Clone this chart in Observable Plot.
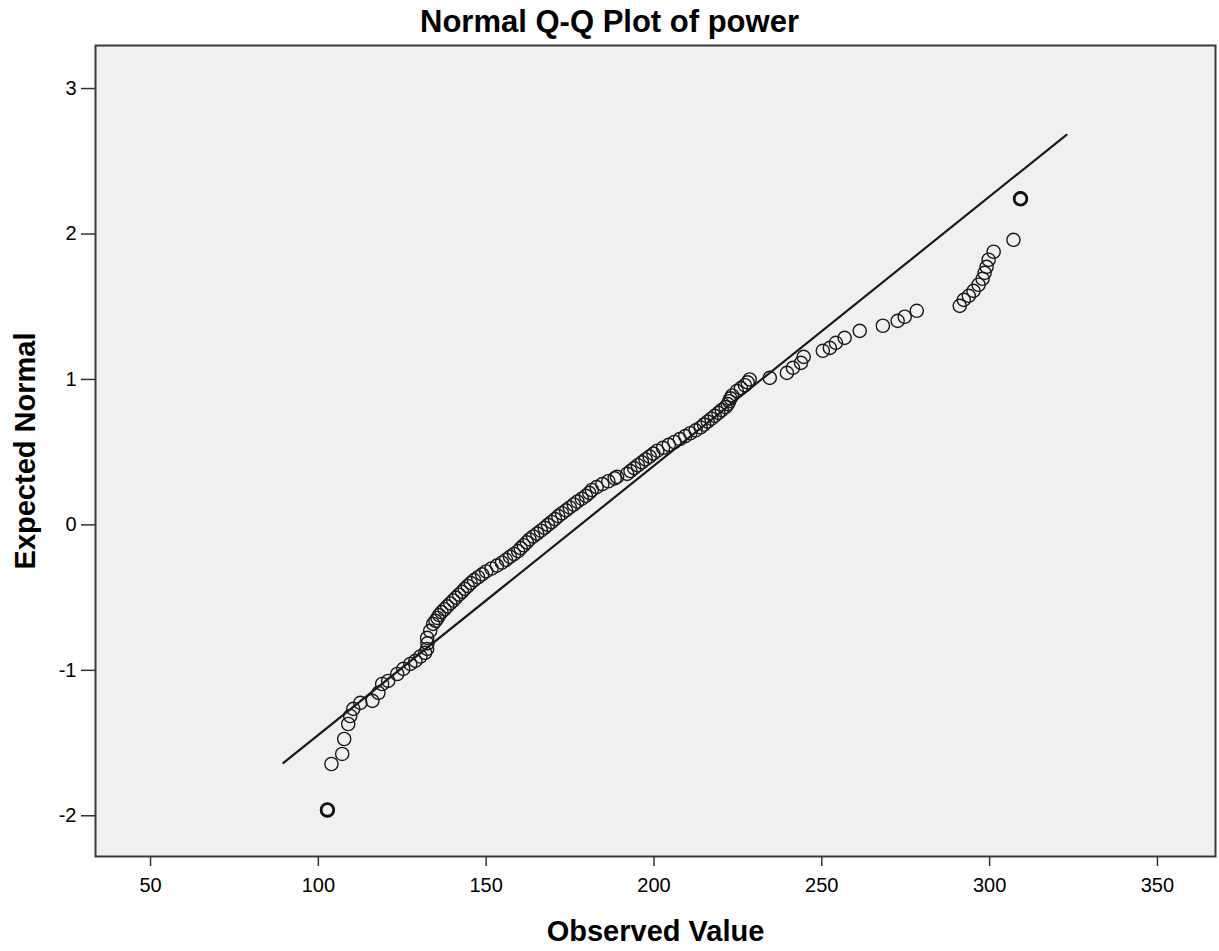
<!DOCTYPE html>
<html>
<head>
<meta charset="utf-8">
<script src="https://cdn.jsdelivr.net/npm/d3@7"></script>
<script src="https://cdn.jsdelivr.net/npm/@observablehq/plot@0.6"></script>
<style>
  body { margin: 0; background: #ffffff; font-family: "Liberation Sans", Arial, sans-serif; }
  #title { height: 40px; width: 1219px; text-align: center; font-size: 31px; font-weight: bold; line-height: 44px; color: #000; overflow: visible; white-space: nowrap; }
  #chart { height: 911px; }
</style>
</head>
<body>
<div id="title">Normal Q-Q Plot of power</div>
<div id="chart"></div>
<script>
const observed = [
  102.7, 103.9, 107.1, 107.7, 108.9, 109.5, 110.4, 112.5, 116.1, 117.9, 119.0, 120.8, 123.5, 125.3, 127.4, 128.9, 130.4, 131.8, 132.4, 132.5, 132.4, 133.3,
  134.2, 134.9, 135.5, 136.0, 136.7, 137.6, 138.4, 139.3, 140.2, 141.0, 141.9, 142.8, 143.6, 144.5, 145.4, 146.4, 147.6, 148.8, 150.0, 151.6, 153.2,
  154.7, 155.9, 157.1, 158.3, 159.5, 160.3, 161.2, 162.1, 162.9, 164.0, 165.2, 166.3, 167.4, 168.4, 169.5, 170.5, 171.5, 172.6, 173.8, 174.9, 176.1,
  177.2, 178.5, 179.7, 180.7, 181.5, 182.9, 184.6, 186.4, 188.3, 189.0, 192.0, 193.0, 194.1, 195.2, 196.4, 197.5, 198.7, 199.8, 201.0, 202.7, 204.4,
  206.1, 207.7, 209.3, 210.8, 212.4, 213.9, 214.9, 216.0, 217.1, 218.1, 219.2, 220.2, 221.3, 222.0, 222.4, 222.8, 223.3, 224.7, 225.9, 227.1, 227.9, 228.5,
  234.5, 239.6, 241.4, 243.8, 244.6, 250.3, 252.4, 254.2, 256.8, 261.3, 268.2, 272.6, 274.7, 278.3,
  291.1, 292.3, 293.8, 295.2, 296.7, 297.9, 298.5, 299.1, 299.7, 301.2, 307.1, 309.2
];
const expected = [
  -1.960, -1.644, -1.575, -1.472, -1.369, -1.314, -1.265, -1.224, -1.210, -1.155, -1.094, -1.073, -1.025, -0.990, -0.956, -0.935, -0.905, -0.880, -0.853, -0.815, -0.777, -0.729,
  -0.681, -0.66, -0.64, -0.62, -0.60, -0.58, -0.56, -0.54, -0.52, -0.50, -0.48, -0.46, -0.44, -0.42, -0.40, -0.38, -0.36, -0.34, -0.32, -0.30, -0.28,
  -0.26, -0.24, -0.22, -0.20, -0.18, -0.16, -0.14, -0.12, -0.10, -0.08, -0.06, -0.04, -0.02, 0.00, 0.02, 0.04, 0.06, 0.08, 0.10, 0.12, 0.14,
  0.16, 0.18, 0.20, 0.22, 0.24, 0.26, 0.28, 0.30, 0.32, 0.33, 0.351, 0.37, 0.39, 0.41, 0.43, 0.45, 0.47, 0.49, 0.51, 0.53, 0.55,
  0.57, 0.59, 0.61, 0.63, 0.65, 0.67, 0.69, 0.71, 0.73, 0.75, 0.77, 0.79, 0.81, 0.83, 0.85, 0.87, 0.89, 0.92, 0.94, 0.96, 0.98, 1.00,
  1.011, 1.045, 1.080, 1.114, 1.155, 1.197, 1.217, 1.252, 1.286, 1.334, 1.369, 1.403, 1.431, 1.472,
  1.506, 1.547, 1.575, 1.609, 1.651, 1.692, 1.733, 1.774, 1.823, 1.878, 1.960, 2.242
];
// tied values (several cases at the same point, drawn bolder)
const tiedObserved = [102.7, 309.2];
const tiedExpected = [-1.960, 2.242];
// reference line end points
const lineObserved = [89.6, 322.9];
const lineExpected = [-1.637, 2.682];
const xTicks = [50, 100, 150, 200, 250, 300, 350];
const yTicks = [-2, -1, 0, 1, 2, 3];

const points = observed.map((v, i) => ({x: v, y: expected[i]}));
const ties = tiedObserved.map((v, i) => ({x: v, y: tiedExpected[i]}));
const refLine = lineObserved.map((v, i) => ({x: v, y: lineExpected[i]}));

const chart = Plot.plot({
  width: 1219,
  height: 911,
  marginLeft: 95,
  marginRight: 4,
  marginTop: 5,
  marginBottom: 95,
  style: {fontFamily: "'Liberation Sans', Arial, sans-serif", background: "#ffffff", color: "#000"},
  x: {domain: [33.6, 367.3]},
  y: {domain: [-2.28, 3.296]},
  marks: [
    Plot.frame({fill: "#f0f0f0", stroke: "none"}),
    Plot.line(refLine, {x: "x", y: "y", stroke: "#1a1a1a", strokeWidth: 2.2}),
    Plot.dot(points, {x: "x", y: "y", r: 6.6, stroke: "#1a1a1a", strokeWidth: 1.4, fill: "none"}),
    Plot.dot(ties, {x: "x", y: "y", r: 6.3, stroke: "#111", strokeWidth: 2.8, fill: "none"}),
    Plot.frame({stroke: "#3a3a3a", strokeWidth: 2}),
    Plot.axisX(xTicks, {tickSize: 10, tickPadding: 11, fontSize: 20, stroke: "#333", strokeWidth: 1.5, tickFormat: d => String(d), label: null}),
    Plot.axisY(yTicks, {tickSize: 14, tickPadding: 5, fontSize: 20, stroke: "#333", strokeWidth: 1.5, tickFormat: d => String(d), label: null}),
    Plot.text(["Observed Value"], {frameAnchor: "bottom", dy: 84, fontSize: 29, fontWeight: "bold", fill: "#000"}),
    Plot.text(["Expected Normal"], {frameAnchor: "left", textAnchor: "middle", dx: -70, rotate: -90, fontSize: 29, fontWeight: "bold", fill: "#000"})
  ]
});
document.getElementById("chart").appendChild(chart);
</script>
</body>
</html>
